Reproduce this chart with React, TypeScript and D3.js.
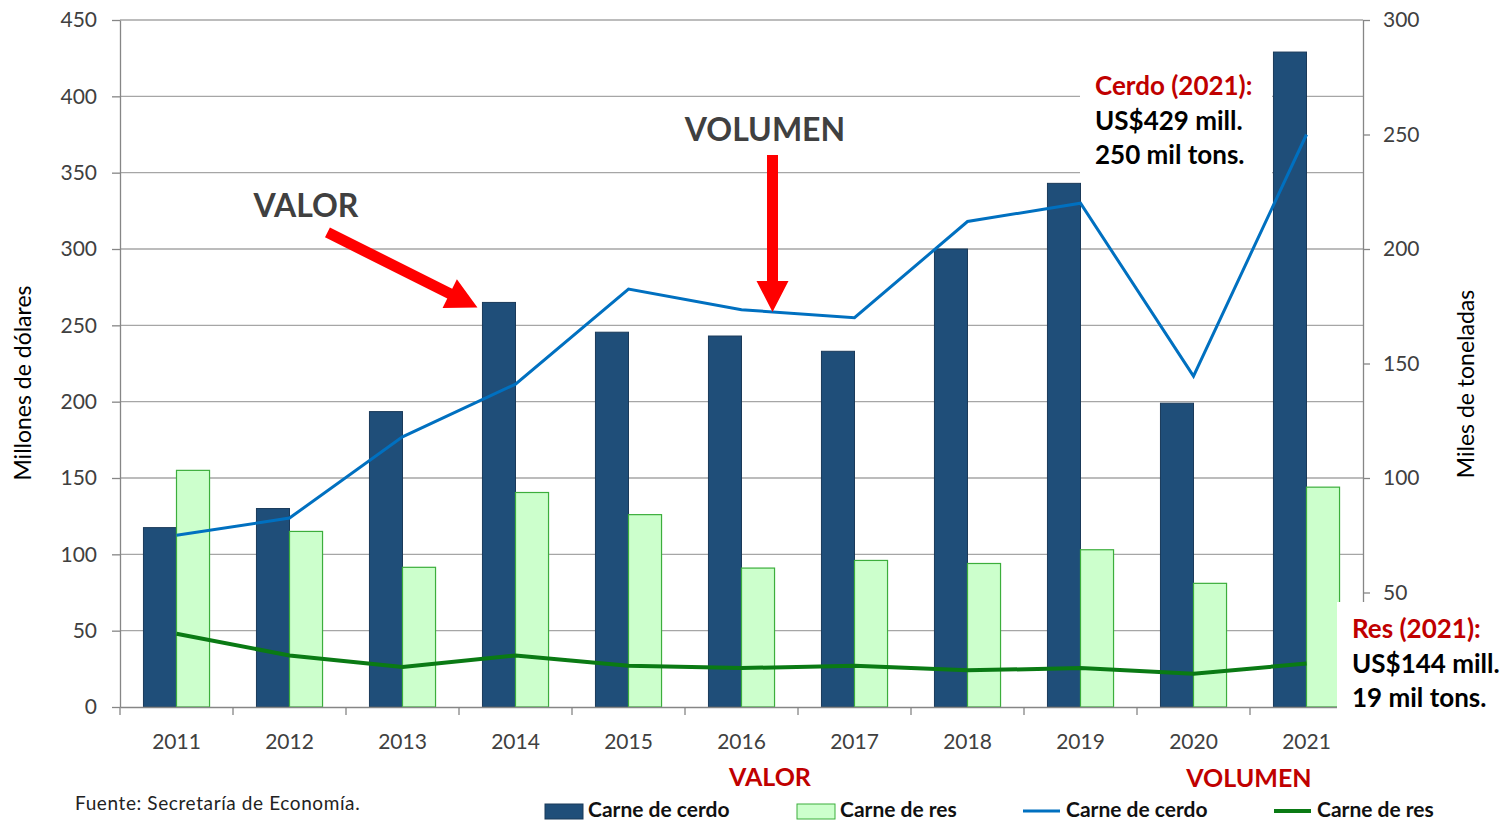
import React, { useEffect, useRef } from 'react';
import * as d3 from 'd3';

// datos
const years = ['2011', '2012', '2013', '2014', '2015', '2016', '2017', '2018', '2019', '2020', '2021'];
const cerdoValor = [117.5, 130, 193.5, 265, 245.5, 243, 233, 300, 343, 199, 429];
const resValor = [155, 115, 91.5, 140.5, 126, 91, 96, 94, 103, 81, 144];
const cerdoVolumen = [75, 82.5, 118, 141, 182.5, 173.5, 170, 212, 220, 144.5, 250];
const resVolumen = [32, 22.5, 17.5, 22.5, 18, 17, 18, 16, 17, 14.5, 19];
const leftTicks = [0, 50, 100, 150, 200, 250, 300, 350, 400, 450];
const rightTicks = [50, 100, 150, 200, 250, 300];
const cerdoNote = ['Cerdo (2021):', 'US$429 mill.', '250 mil tons.'];
const resNote = ['Res (2021):', 'US$144 mill.', '19 mil tons.'];
const legendLabels = ['Carne de cerdo', 'Carne de res', 'Carne de cerdo', 'Carne de res'];

const W = 1503;
const H = 823;
const FONT = "Lato, 'Open Sans', sans-serif";

const App = () => {
  const ref = useRef<SVGSVGElement>(null);

  useEffect(() => {
    const svg = d3.select(ref.current);
    svg.selectAll('*').remove();

    const left = 120, right = 1363, top = 20, bottom = 707;

    const x = d3.scaleBand().domain(years).range([left, right]);
    const xSub = d3.scaleBand().domain(['cerdo', 'res'])
      .range([0, x.bandwidth()])
      .paddingOuter(0.71);
    const yL = d3.scaleLinear().domain([0, 450]).range([bottom, top]);
    const yR = d3.scaleLinear().domain([0, 300]).range([bottom, top]);
    const cx = (y: string) => (x(y) as number) + x.bandwidth() / 2;

    svg.append('rect').attr('width', W).attr('height', H).attr('fill', '#fff');

    // lineas de la cuadricula
    svg.append('g').selectAll('line')
      .data(leftTicks.filter(d => d > 0))
      .enter().append('line')
      .attr('x1', left).attr('x2', right)
      .attr('y1', d => yL(d)).attr('y2', d => yL(d))
      .attr('stroke', '#a6a6a6').attr('stroke-width', 1.3);

    // barras
    const bars = svg.append('g');
    bars.selectAll('.cerdo')
      .data(cerdoValor)
      .enter().append('rect')
      .attr('x', (d, i) => (x(years[i]) as number) + (xSub('cerdo') as number))
      .attr('y', d => yL(d))
      .attr('width', xSub.bandwidth())
      .attr('height', d => bottom - yL(d))
      .attr('fill', '#1f4e79')
      .attr('stroke', '#1a3a5a').attr('stroke-width', 1);
    bars.selectAll('.res')
      .data(resValor)
      .enter().append('rect')
      .attr('x', (d, i) => (x(years[i]) as number) + (xSub('res') as number))
      .attr('y', d => yL(d))
      .attr('width', xSub.bandwidth())
      .attr('height', d => bottom - yL(d))
      .attr('fill', '#ccffcc')
      .attr('stroke', '#3cae3c').attr('stroke-width', 1.2);

    // lineas de volumen
    const line = d3.line<number>()
      .x((d, i) => cx(years[i]))
      .y(d => yR(d));
    svg.append('path').datum(cerdoVolumen)
      .attr('d', line).attr('fill', 'none')
      .attr('stroke', '#0070c0').attr('stroke-width', 3);
    svg.append('path').datum(resVolumen)
      .attr('d', line).attr('fill', 'none')
      .attr('stroke', '#0a7a14').attr('stroke-width', 4);

    // ejes
    const axisColor = '#868686';
    const gl = svg.append('g').attr('transform', `translate(${left},0)`)
      .call(d3.axisLeft(yL).tickValues(leftTicks).tickSize(8).tickPadding(15).tickSizeOuter(0));
    const gr = svg.append('g').attr('transform', `translate(${right},0)`)
      .call(d3.axisRight(yR).tickValues(rightTicks).tickSize(7).tickPadding(13).tickSizeOuter(0));
    const gb = svg.append('g').attr('transform', `translate(0,${bottom})`)
      .call(d3.axisBottom(x).tickSize(0).tickPadding(27));
    [gl, gr, gb].forEach(g => {
      g.select('.domain').attr('stroke', axisColor).attr('stroke-width', 1.3);
      g.selectAll('.tick line').attr('stroke', axisColor).attr('stroke-width', 1.3);
      g.selectAll('text').attr('font-family', FONT).attr('font-size', 21).attr('fill', '#404040');
    });
    svg.append('g').selectAll('line')
      .data(years.concat(['end']))
      .enter().append('line')
      .attr('x1', (d, i) => left + i * x.step()).attr('x2', (d, i) => left + i * x.step())
      .attr('y1', bottom).attr('y2', bottom + 8)
      .attr('stroke', axisColor).attr('stroke-width', 1.3);

    // titulos de ejes
    svg.append('text')
      .attr('transform', `translate(31,383) rotate(-90)`)
      .attr('text-anchor', 'middle')
      .attr('font-family', FONT).attr('font-size', 23).attr('fill', '#000')
      .text('Millones de dólares');
    svg.append('text')
      .attr('transform', `translate(1474,384) rotate(-90)`)
      .attr('text-anchor', 'middle')
      .attr('font-family', FONT).attr('font-size', 23).attr('fill', '#000')
      .text('Miles de toneladas');

    // flechas rojas
    const arrow = (x0: number, y0: number, x1: number, y1: number) => {
      const dx = x1 - x0, dy = y1 - y0;
      const len = Math.sqrt(dx * dx + dy * dy);
      const ux = dx / len, uy = dy / len;
      const px = -uy, py = ux;
      const hl = 31, hw = 16, sw = 5.5;
      const bx = x1 - ux * hl, by = y1 - uy * hl;
      const pts = [
        [x0 + px * sw, y0 + py * sw],
        [bx + px * sw, by + py * sw],
        [bx + px * hw, by + py * hw],
        [x1, y1],
        [bx - px * hw, by - py * hw],
        [bx - px * sw, by - py * sw],
        [x0 - px * sw, y0 - py * sw],
      ];
      svg.append('path')
        .attr('d', 'M' + pts.map(p => p.join(',')).join('L') + 'Z')
        .attr('fill', '#ff0000');
    };
    const valorTipX = (x(years[3]) as number) + (xSub('cerdo') as number) - 5;
    arrow(valorTipX - 150, yL(cerdoValor[3]) - 70, valorTipX, yL(cerdoValor[3]) + 5);
    const volTipX = cx(years[5]) + 31;
    const volTipY = yR(cerdoVolumen[5] + (cerdoVolumen[6] - cerdoVolumen[5]) * 31 / x.step());
    arrow(volTipX, 155, volTipX, volTipY);

    svg.append('text').attr('x', 306).attr('y', 217)
      .attr('text-anchor', 'middle')
      .attr('font-family', FONT).attr('font-size', 32).attr('font-weight', 'bold')
      .attr('fill', '#404040').text('VALOR');
    svg.append('text').attr('x', 765).attr('y', 141)
      .attr('text-anchor', 'middle')
      .attr('font-family', FONT).attr('font-size', 32).attr('font-weight', 'bold')
      .attr('fill', '#404040').text('VOLUMEN');

    // notas 2021
    const note = (lines: string[], bx: number, by: number, bw: number, bh: number, tx: number, ty: number) => {
      svg.append('rect').attr('x', bx).attr('y', by).attr('width', bw).attr('height', bh).attr('fill', '#fff');
      lines.forEach((t, i) => {
        svg.append('text').attr('x', tx).attr('y', ty + i * 34.5)
          .attr('font-family', FONT).attr('font-size', 26).attr('font-weight', 'bold')
          .attr('fill', i === 0 ? '#c00000' : '#000').text(t);
      });
    };
    note(cerdoNote, 1080, 60, 192, 120, 1095, 95);
    note(resNote, 1337, 602, 166, 114, 1352, 638);

    // subtitulos rojos
    svg.append('text').attr('x', 770).attr('y', 786)
      .attr('text-anchor', 'middle')
      .attr('font-family', FONT).attr('font-size', 25).attr('font-weight', 'bold')
      .attr('fill', '#c00000').text('VALOR');
    svg.append('text').attr('x', 1249).attr('y', 787)
      .attr('text-anchor', 'middle')
      .attr('font-family', FONT).attr('font-size', 25).attr('font-weight', 'bold')
      .attr('fill', '#c00000').text('VOLUMEN');

    svg.append('text').attr('x', 75).attr('y', 810)
      .attr('font-family', FONT).attr('font-size', 19).attr('letter-spacing', 0.6)
      .attr('fill', '#222').text('Fuente: Secretaría de Economía.');

    // leyenda
    const legendX = [545, 797, 1023, 1274];
    const lg = svg.append('g');
    lg.append('rect').attr('x', legendX[0]).attr('y', 804).attr('width', 38).attr('height', 15)
      .attr('fill', '#1f4e79').attr('stroke', '#1a3a5a');
    lg.append('rect').attr('x', legendX[1]).attr('y', 804).attr('width', 38).attr('height', 15)
      .attr('fill', '#ccffcc').attr('stroke', '#3cae3c');
    lg.append('line').attr('x1', legendX[2]).attr('x2', legendX[2] + 37).attr('y1', 811).attr('y2', 811)
      .attr('stroke', '#0070c0').attr('stroke-width', 3);
    lg.append('line').attr('x1', legendX[3]).attr('x2', legendX[3] + 37).attr('y1', 811).attr('y2', 811)
      .attr('stroke', '#0a7a14').attr('stroke-width', 4);
    legendLabels.forEach((t, i) => {
      lg.append('text').attr('x', legendX[i] + 43).attr('y', 817)
        .attr('font-family', FONT).attr('font-size', 21).attr('font-weight', 'bold')
        .attr('fill', '#111').text(t);
    });
  }, []);

  return (
    <svg ref={ref} width={W} height={H}
      style={{ position: 'absolute', left: 0, top: 0, display: 'block' }} />
  );
};

export default App;
